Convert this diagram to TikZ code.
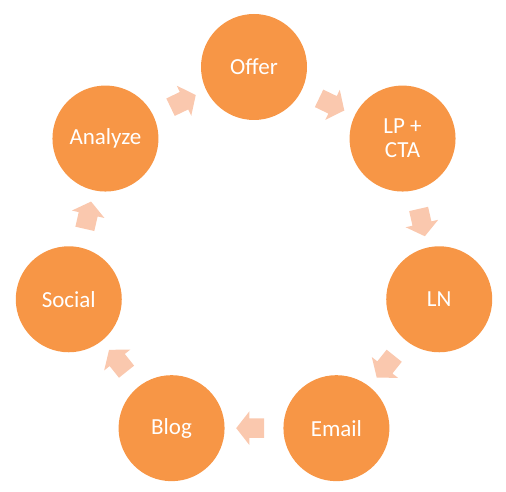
\documentclass[tikz,border=0pt]{standalone}
\usepackage{fontspec}
\setmainfont{Carlito}
\usetikzlibrary{shapes.arrows,calc}
\definecolor{circfill}{HTML}{F79646}
\definecolor{arrfill}{HTML}{FAC8AE}
\tikzset{
  circ/.style={circle, fill=circfill, draw=none, minimum size=106pt, inner sep=0pt,
    text=white, align=center, font=\fontsize{23}{24}\selectfont},
  blockarrow/.style={single arrow, fill=arrfill, draw=none, minimum width=33pt,
    minimum height=28pt, single arrow head extend=7pt, single arrow tip angle=104,
    inner xsep=0pt, inner ysep=9.5pt, anchor=center}
}
\begin{document}
\begin{tikzpicture}[x=1pt,y=1pt]
\useasboundingbox (0,0) rectangle (506,492);
\coordinate (c) at (254,235);
\node[circ] (n0) at ($(c)+(90-0*360/7:190)$) {Offer};
\node[circ] (n1) at ($(c)+(90-1*360/7:190)$) {LP +\\CTA};
\node[circ] (n2) at ($(c)+(90-2*360/7:190)$) {LN};
\node[circ] (n3) at ($(c)+(90-3*360/7:190)$) {Email};
\node[circ] (n4) at ($(c)+(90-4*360/7:190)$) {Blog};
\node[circ] (n5) at ($(c)+(90-5*360/7:190)$) {Social};
\node[circ] (n6) at ($(c)+(90-6*360/7:190)$) {Analyze};
\node[blockarrow, rotate=-0.5*360/7] (a0) at ($(n0)!0.5!(n1)$) {};
\node[blockarrow, rotate=-1.5*360/7] (a1) at ($(n1)!0.5!(n2)$) {};
\node[blockarrow, rotate=-2.5*360/7] (a2) at ($(n2)!0.5!(n3)$) {};
\node[blockarrow, rotate=-3.5*360/7] (a3) at ($(n3)!0.5!(n4)$) {};
\node[blockarrow, rotate=-4.5*360/7] (a4) at ($(n4)!0.5!(n5)$) {};
\node[blockarrow, rotate=-5.5*360/7] (a5) at ($(n5)!0.5!(n6)$) {};
\node[blockarrow, rotate=-6.5*360/7] (a6) at ($(n6)!0.5!(n0)$) {};
\end{tikzpicture}
\end{document}
